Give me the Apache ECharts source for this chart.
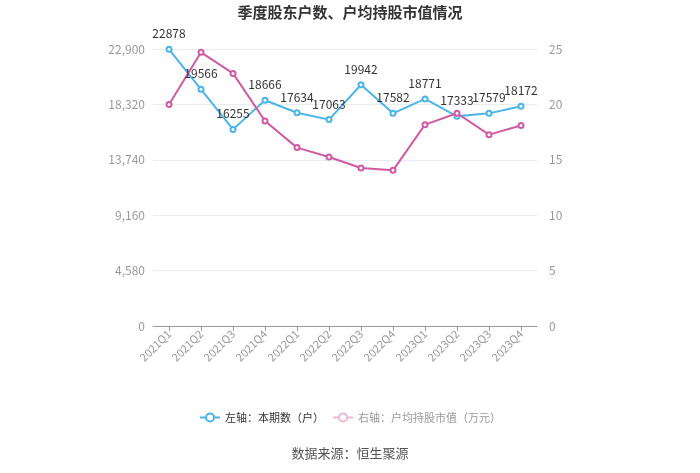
<!DOCTYPE html>
<html><head><meta charset="utf-8">
<script src="https://cdn.jsdelivr.net/npm/echarts@6/dist/echarts.min.js"></script>
<style>html,body{margin:0;padding:0;background:#fff}#c{width:700px;height:473px}</style>
</head><body><div id="c"></div>
<script>
const categories = ['2021Q1','2021Q2','2021Q3','2021Q4','2022Q1','2022Q2','2022Q3','2022Q4','2023Q1','2023Q2','2023Q3','2023Q4'];
const holders = [22878,19566,16255,18666,17634,17063,19942,17582,18771,17333,17579,18172];
const avgValue = [20.0,24.7,22.8,18.5,16.1,15.25,14.26,14.05,18.17,19.2,17.27,18.1];
const leftTicks = {min:0,max:22900,interval:4580};
const rightTicks = {min:0,max:25,interval:5};
const font = '"Noto Sans CJK SC", "Noto Sans", sans-serif';
const chart = echarts.init(document.getElementById('c'));
chart.setOption({
  animation:false,
  textStyle:{fontFamily:font},
  title:{text:'季度股东户数、户均持股市值情况',left:'center',top:0,textStyle:{fontSize:15,fontWeight:'bold',color:'#333',fontFamily:font}},
  grid:{left:153,right:163,top:49,bottom:147},
  legend:{bottom:45,itemGap:8,itemWidth:20,itemHeight:10,textStyle:{fontSize:11,color:'#333'},
    data:[{name:'左轴：本期数（户）'},{name:'右轴：户均持股市值（万元）',textStyle:{color:'#999'},itemStyle:{color:'#f0b6d8',borderColor:'#f0b6d8'},lineStyle:{color:'#f0b6d8'}}]},
  graphic:[{type:'text',left:'center',top:447,style:{text:'数据来源：恒生聚源',fontSize:13,fill:'#555',fontFamily:font}}],
  xAxis:{type:'category',data:categories,boundaryGap:true,
    axisLine:{lineStyle:{color:'#999'}},axisTick:{show:true,alignWithLabel:true,lineStyle:{color:'#999'}},
    axisLabel:{rotate:45,color:'#999',fontSize:11,interval:0,margin:6}},
  yAxis:[
    {type:'value',min:leftTicks.min,max:leftTicks.max,interval:leftTicks.interval,
      axisLine:{show:false},axisTick:{show:false},
      axisLabel:{color:'#999',fontSize:12,margin:8,formatter:v=>v.toLocaleString('en-US')},
      splitLine:{lineStyle:{color:'#e8ebf0'}}},
    {type:'value',min:rightTicks.min,max:rightTicks.max,interval:rightTicks.interval,
      axisLine:{show:false},axisTick:{show:false},
      axisLabel:{color:'#999',fontSize:12,margin:12},splitLine:{show:false}}
  ],
  series:[
    {name:'左轴：本期数（户）',type:'line',yAxisIndex:0,data:holders,symbol:'emptyCircle',symbolSize:5,
      itemStyle:{color:'#4cb5e8'},lineStyle:{width:2,color:'#4cb5e8'},
      label:{show:true,position:'top',color:'#333',fontSize:12,distance:6}},
    {name:'右轴：户均持股市值（万元）',type:'line',yAxisIndex:1,data:avgValue,symbol:'emptyCircle',symbolSize:5,
      itemStyle:{color:'#d05aa3'},lineStyle:{width:2,color:'#d05aa3'}}
  ]
});
</script></body></html>
